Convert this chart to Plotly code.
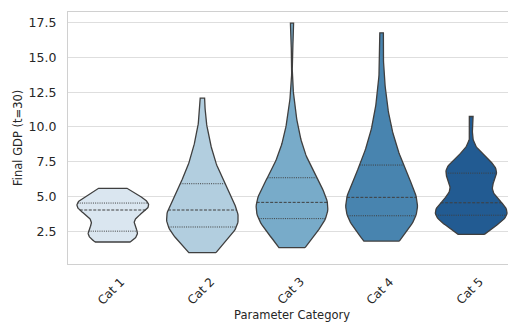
import numpy as np
import plotly.graph_objects as go

# ---------------- data ----------------
categories = ["Cat 1", "Cat 2", "Cat 3", "Cat 4", "Cat 5"]

cat1_gdp = [1.73, 1.78, 1.85, 1.95, 2.05, 2.15, 2.25, 2.33, 2.41, 2.48,
            2.52, 2.65, 2.82, 3.00, 3.20, 3.40, 3.60, 3.78, 3.92, 4.02,
            4.04, 4.10, 4.16, 4.22, 4.28, 4.33, 4.38, 4.43, 4.48, 4.52,
            4.56, 4.65, 4.75, 4.86, 4.98, 5.10, 5.22, 5.35, 5.47, 5.59]

cat2_gdp = [0.97, 1.35, 1.70, 1.95, 2.15, 2.30, 2.45, 2.58, 2.70, 2.78,
            2.82, 2.95, 3.08, 3.20, 3.33, 3.46, 3.60, 3.73, 3.87, 4.00,
            4.06, 4.22, 4.40, 4.58, 4.78, 4.98, 5.18, 5.40, 5.62, 5.88,
            6.04, 6.30, 6.60, 6.95, 7.35, 7.80, 8.35, 9.00, 9.90, 12.07]

cat3_gdp = [1.33, 1.80, 2.20, 2.50, 2.75, 2.93, 3.08, 3.20, 3.30, 3.39,
            3.42, 3.55, 3.70, 3.83, 3.96, 4.08, 4.20, 4.32, 4.44, 4.55,
            4.61, 4.78, 4.95, 5.13, 5.32, 5.50, 5.70, 5.90, 6.10, 6.30,
            6.50, 6.80, 7.10, 7.50, 7.90, 8.40, 9.00, 9.80, 11.20, 17.46]

cat4_gdp = [1.80, 2.15, 2.45, 2.70, 2.90, 3.07, 3.22, 3.36, 3.48, 3.58,
            3.63, 3.78, 3.93, 4.08, 4.22, 4.36, 4.50, 4.64, 4.78, 4.90,
            4.98, 5.20, 5.45, 5.70, 5.95, 6.20, 6.45, 6.70, 6.95, 7.20,
            7.44, 7.80, 8.20, 8.65, 9.15, 9.75, 10.50, 11.50, 13.20, 16.76]

cat5_gdp = [2.28, 2.70, 2.98, 3.18, 3.32, 3.43, 3.51, 3.57, 3.61, 3.64,
            3.66, 3.72, 3.78, 3.85, 3.92, 4.00, 4.10, 4.20, 4.32, 4.46,
            4.64, 4.78, 4.94, 5.14, 5.50, 6.25, 6.42, 6.53, 6.61, 6.66,
            6.74, 6.82, 6.90, 6.98, 7.06, 7.15, 7.26, 7.40, 7.70, 10.75]

samples = [cat1_gdp, cat2_gdp, cat3_gdp, cat4_gdp, cat5_gdp]

y_tick_values = [2.5, 5.0, 7.5, 10.0, 12.5, 15.0, 17.5]
x_title = "Parameter Category"
y_title = "Final GDP (t=30)"

# ---------------- style ----------------
palette = ["#dae6f0", "#b2cedf", "#78abc9", "#4884af", "#225b92"]
LINE = "#3f3f3f"
TEXT = "#262626"
GRID = "#dedede"
SPINE = "#d0d0d0"
FONT = "DejaVu Sans"
BW_ADJUST = 1.0
HALF_WIDTH = 0.4
GRIDSIZE = 100

W, H = 508, 322
ML, MR, MT, MB = 68, 0, 12, 58
PW, PH = W - ML - MR, H - MT - MB
X_RANGE = [-0.5, -0.5 + PW / 89.6]
Y_RANGE = [0.15, 18.26]


def kde(values, grid):
    v = np.asarray(values, float)
    bw = BW_ADJUST * v.std(ddof=1) * len(v) ** (-0.2)
    z = (grid[:, None] - v[None, :]) / bw
    return np.exp(-0.5 * z * z).sum(axis=1) / (len(v) * bw * np.sqrt(2 * np.pi))


fig = go.Figure()

for i, (name, vals, col) in enumerate(zip(categories, samples, palette)):
    v = np.sort(np.asarray(vals, float))
    grid = np.linspace(v.min(), v.max(), GRIDSIZE)
    dens = kde(v, grid)
    hw = HALF_WIDTH * dens / dens.max()
    xs = np.concatenate([i + hw, (i - hw)[::-1], [i + hw[0]]])
    ys = np.concatenate([grid, grid[::-1], [grid[0]]])
    fig.add_trace(go.Scatter(
        x=xs, y=ys, mode="lines", fill="toself", fillcolor=col,
        line=dict(color=LINE, width=1.3), name=name,
        hoverinfo="skip", showlegend=False))
    q1, med, q3 = np.percentile(v, [25, 50, 75])
    for q, dash in [(q1, "1px,1.2px"), (med, "3px,1.5px"), (q3, "1px,1.2px")]:
        w = float(np.interp(q, grid, hw))
        fig.add_trace(go.Scatter(
            x=[i - w, i + w], y=[q, q], mode="lines",
            line=dict(color=LINE, width=1, dash=dash),
            hoverinfo="skip", showlegend=False))

# rotated category labels (centred under each violin, as in matplotlib)
for i, name in enumerate(categories):
    fig.add_annotation(
        x=i - 0.015, xref="x", y=-(291 - (MT + PH)) / PH, yref="paper",
        text=name, textangle=-45, showarrow=False,
        xanchor="center", yanchor="middle",
        font=dict(family=FONT, size=12, color=TEXT))

# axis titles
fig.add_annotation(
    x=2, xref="x", y=-(306 - (MT + PH)) / PH, yref="paper",
    text=x_title, showarrow=False, xanchor="center", yanchor="top",
    font=dict(family=FONT, size=11.5, color=TEXT))
fig.add_annotation(
    x=(18 - ML) / PW, xref="paper", y=0.5, yref="paper",
    text=y_title, textangle=-90, showarrow=False,
    xanchor="center", yanchor="middle",
    font=dict(family=FONT, size=11.5, color=TEXT))

fig.update_layout(
    width=W, height=H,
    margin=dict(l=ML, r=MR, t=MT, b=MB, pad=0),
    plot_bgcolor="white", paper_bgcolor="white",
    font=dict(family=FONT, color=TEXT),
    showlegend=False,
)
fig.update_xaxes(
    range=X_RANGE, showgrid=False, zeroline=False,
    showline=True, mirror=True, linecolor=SPINE, linewidth=1.25,
    tickvals=list(range(len(categories))), showticklabels=False, ticks="")
fig.update_yaxes(
    range=Y_RANGE, tickvals=y_tick_values,
    ticktext=[f"{t:.1f}" for t in y_tick_values],
    showgrid=True, gridcolor=GRID, gridwidth=1, zeroline=False,
    showline=True, linecolor=SPINE, linewidth=1.25, ticks="",
    ticklabelstandoff=8,
    tickfont=dict(family=FONT, size=12.5, color=TEXT))

fig.write_html("out.html")
